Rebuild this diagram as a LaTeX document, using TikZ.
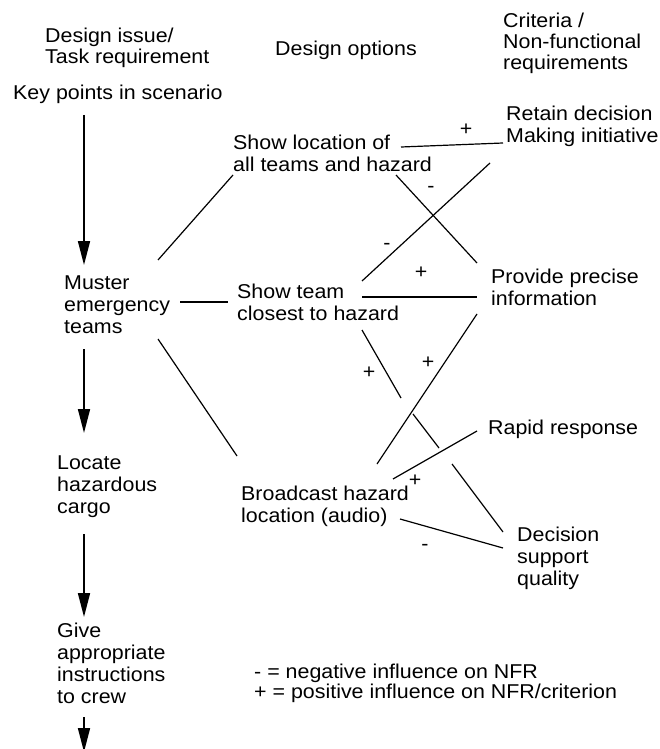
\documentclass[tikz,border=0pt]{standalone}
\usepackage{fontspec}
\setmainfont{Liberation Sans}[FakeStretch=1.07]
\usetikzlibrary{arrows.meta}
\newcommand{\ml}[1]{\begin{tabular}[t]{@{}l@{}}#1\end{tabular}}
\begin{document}
\begin{tikzpicture}[x=1pt,y=-1pt,
  txt/.style={anchor=base west, inner sep=0pt, font=\fontsize{20}{22}\selectfont},
  hdr/.style={anchor=base west, inner sep=0pt, font=\fontsize{20}{21}\selectfont},
  leg/.style={anchor=base west, inner sep=0pt, font=\fontsize{20}{19.5}\selectfont},
  sgn/.style={inner sep=0pt, font=\fontsize{20}{22}\selectfont},
  link/.style={line width=1.2pt},
  flow/.style={line width=1.7pt, -{Triangle[length=24pt,width=12pt]}}]
\useasboundingbox (0,0) rectangle (659,749);

% headers
\node[hdr] (h1) at (45,43) {\ml{Design issue/\\Task requirement}};
\node[hdr] (h2) at (275,56) {Design options};
\node[hdr] (h3) at (503,28) {\ml{Criteria /\\Non-functional\\requirements}};

% task column
\node[txt] (key) at (13,100) {Key points in scenario};
\node[txt] (muster) at (64,289) {\ml{Muster\\emergency\\teams}};
\node[txt] (locate) at (57,469) {\ml{Locate\\hazardous\\cargo}};
\node[txt] (give) at (57,637) {\ml{Give\\appropriate\\instructions\\to crew}};

% design options
\node[txt] (showloc) at (233,149) {\ml{Show location of\\all teams and hazard}};
\node[txt] (showteam) at (237,298) {\ml{Show team\\closest to hazard}};
\node[txt] (broad) at (241,500) {\ml{Broadcast hazard\\location (audio)}};

% criteria
\node[txt] (retain) at (506,121) {\ml{Retain decision\\Making initiative}};
\node[txt] (provide) at (491,283) {\ml{Provide precise\\information}};
\node[txt] (rapid) at (488,434) {Rapid response};
\node[txt] (dsq) at (517,541) {\ml{Decision\\support\\quality}};

% legend
\node[leg] (legend) at (254,678) {\ml{- = negative influence on NFR\\+ = positive influence on NFR/criterion}};

% flow arrows
\coordinate (f1a) at (84,115);  \coordinate (f1b) at (84,265);
\coordinate (f2a) at (84,349);  \coordinate (f2b) at (84,433);
\coordinate (f3a) at (84,534);  \coordinate (f3b) at (84,617);
\coordinate (f4a) at (84,717);  \coordinate (f4b) at (84,752);
\draw[flow] (f1a) -- (f1b);
\draw[flow] (f2a) -- (f2b);
\draw[flow] (f3a) -- (f3b);
\draw[flow] (f4a) -- (f4b);

% task -> options
\coordinate (m1) at (158,260); \coordinate (sl1) at (233,175);
\coordinate (m2) at (180,302); \coordinate (st1) at (228,302);
\coordinate (m3) at (158,339); \coordinate (b1) at (237,456);
\draw[link] (m1) -- (sl1);
\draw[link] (m2) -- (st1);
\draw[link] (m3) -- (b1);

% options -> criteria
\coordinate (sl2) at (401,147); \coordinate (r1) at (503,143);
\coordinate (sl3) at (396,175); \coordinate (p1) at (477,263);
\coordinate (st2) at (362,281); \coordinate (r2) at (490,163);
\coordinate (st3) at (362,297); \coordinate (p2) at (477,297);
\coordinate (st4) at (362,330); \coordinate (x1) at (401,398);
\coordinate (x2) at (413,414);  \coordinate (x3) at (439,448);
\coordinate (x4) at (452,464);  \coordinate (d1) at (503,532);
\coordinate (b2) at (377,464);  \coordinate (p3) at (477,314);
\coordinate (b3) at (393,479);  \coordinate (rr) at (477,431);
\coordinate (b4) at (400,519);  \coordinate (d2) at (503,548);

\draw[link] (sl2) -- (r1);
\draw[link] (sl3) -- (p1);
\draw[link] (st2) -- (r2);
\draw[link] (st3) -- (p2);
\draw[link] (st4) -- (x1);
\draw[link] (x2) -- (x3);
\draw[link] (x4) -- (d1);
\draw[link] (b2) -- (p3);
\draw[link] (b3) -- (rr);
\draw[link] (b4) -- (d2);

% influence signs
\node[sgn] (s1) at (466,130) {+};
\node[sgn] (s2) at (431,189) {-};
\node[sgn] (s3) at (387,246) {-};
\node[sgn] (s4) at (421,273) {+};
\node[sgn] (s5) at (369,373) {+};
\node[sgn] (s6) at (428,363) {+};
\node[sgn] (s7) at (415,481) {+};
\node[sgn] (s8) at (425,547) {-};
\end{tikzpicture}
\end{document}
